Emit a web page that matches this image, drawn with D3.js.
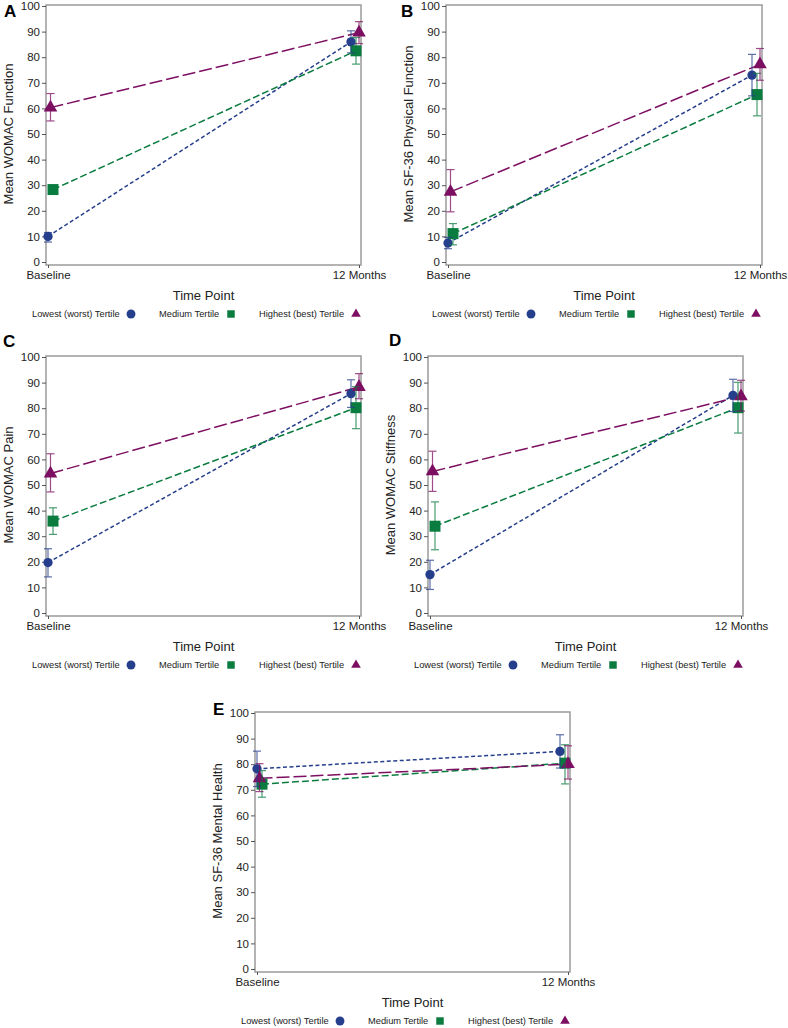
<!DOCTYPE html>
<html><head><meta charset="utf-8">
<script src="https://cdn.jsdelivr.net/npm/d3@7"></script>
<style>
html,body{margin:0;padding:0;background:#fff;}
svg{display:block;font-family:"Liberation Sans",Arial,sans-serif;}
</style></head>
<body>
<svg id="chart" width="788" height="1028"></svg>
<script>
// ---------- DATA ----------
const categories = ["Baseline", "12 Months"];
const seriesNames = ["Lowest (worst) Tertile", "Medium Tertile", "Highest (best) Tertile"];
const yTicks = [0, 10, 20, 30, 40, 50, 60, 70, 80, 90, 100];
const xTitle = "Time Point";

// rows: Lowest, Medium, Highest ; columns: Baseline, 12 Months
const womacFunctionMean = [[10.0, 86.0], [28.3, 82.5], [60.3, 89.6]];
const womacFunctionLo   = [[7.8, 81.7], [26.8, 77.3], [55.1, 85.3]];
const womacFunctionHi   = [[11.5, 90.3], [29.8, 87.7], [65.8, 93.9]];

const sf36PhysMean = [[7.4, 73.0], [11.1, 65.4], [27.4, 77.2]];
const sf36PhysLo   = [[5.2, 64.9], [6.7, 57.1], [19.6, 71.0]];
const sf36PhysHi   = [[9.6, 81.1], [15.0, 73.7], [36.1, 83.4]];

const womacPainMean = [[19.7, 85.7], [35.9, 80.2], [54.5, 88.3]];
const womacPainLo   = [[14.1, 80.3], [30.7, 72.0], [47.3, 83.7]];
const womacPainHi   = [[25.1, 91.1], [41.1, 88.4], [62.2, 93.5]];

const womacStiffMean = [[15.0, 85.0], [33.9, 80.2], [55.3, 84.6]];
const womacStiffLo   = [[9.2, 78.7], [24.7, 70.3], [47.5, 78.9]];
const womacStiffHi   = [[20.6, 91.3], [43.4, 90.1], [63.2, 90.9]];

const sf36MentMean = [[78.2, 85.0], [72.2, 80.4], [74.5, 80.0]];
const sf36MentLo   = [[71.3, 78.5], [67.1, 72.3], [69.3, 74.2]];
const sf36MentHi   = [[85.1, 91.5], [77.5, 87.6], [80.2, 87.2]];

const panelLetters = ["A", "B", "C", "D", "E"];
const yTitles = ["Mean WOMAC Function", "Mean SF-36 Physical Function", "Mean WOMAC Pain", "Mean WOMAC Stiffness", "Mean SF-36 Mental Health"];

// ---------- STYLE / LAYOUT ----------
const colors = ["#263f8c", "#0b7c40", "#7d0f62"];
const dashes = ["4,2.5", "7,3", "13,4"];
const shapes = ["circle", "square", "triangle"];
const clusterShift = [[0, 5, 2.5], [-8, -3, 0]]; // px, per category then series

const layouts = [
  {left: 46, right: 361, top: 6, bottom: 262, lx: 4, ly: 17},
  {left: 446, right: 762, top: 6, bottom: 262, lx: 401, ly: 17},
  {left: 46, right: 361, top: 357, bottom: 613, lx: 3, ly: 347},
  {left: 428, right: 743, top: 357, bottom: 613, lx: 389, ly: 346},
  {left: 255, right: 570, top: 713, bottom: 969, lx: 213, ly: 715}
];

const panels = [
  {mean: womacFunctionMean, lo: womacFunctionLo, hi: womacFunctionHi},
  {mean: sf36PhysMean, lo: sf36PhysLo, hi: sf36PhysHi},
  {mean: womacPainMean, lo: womacPainLo, hi: womacPainHi},
  {mean: womacStiffMean, lo: womacStiffLo, hi: womacStiffHi},
  {mean: sf36MentMean, lo: sf36MentLo, hi: sf36MentHi}
];

const svg = d3.select("#chart");
const textColor = "#222";
const frameColor = "#9a9a9a";

function markerPath(shape, size) {
  const t = shape === "circle" ? d3.symbolCircle : shape === "square" ? d3.symbolSquare : d3.symbolTriangle;
  return d3.symbol().type(t).size(size)();
}
const markerSizes = {circle: 68, square: 121, triangle: 80};
const legendSizes = {circle: 62, square: 56, triangle: 40};

panels.forEach((p, pi) => {
  const L = layouts[pi];
  const g = svg.append("g");
  const x = d3.scalePoint().domain(categories).range([L.left + 2, L.right - 2]);
  const y = d3.scaleLinear().domain([0, 100]).range([L.bottom, L.top]);
  const frameTop = L.top - 1, frameBottom = L.bottom + 3;

  // frame
  g.append("rect").attr("x", L.left).attr("y", frameTop)
    .attr("width", L.right - L.left).attr("height", frameBottom - frameTop)
    .attr("fill", "none").attr("stroke", frameColor).attr("stroke-width", 1.5);

  // y axis
  const ya = g.append("g").attr("transform", `translate(${L.left},0)`)
    .call(d3.axisLeft(y).tickValues(yTicks).tickSize(4).tickPadding(2));
  ya.select(".domain").remove();
  ya.selectAll(".tick line").attr("stroke", "#555");
  ya.selectAll(".tick text").attr("fill", textColor).style("font-size", "11.5px").style("font-family", "Liberation Sans, Arial, sans-serif");

  // x axis
  const xa = g.append("g").attr("transform", `translate(0,${frameBottom})`)
    .call(d3.axisBottom(x).tickSize(3).tickPadding(3));
  xa.select(".domain").remove();
  xa.selectAll(".tick line").attr("stroke", "#555");
  xa.selectAll(".tick text").attr("fill", textColor).style("font-size", "11.5px").style("font-family", "Liberation Sans, Arial, sans-serif");

  // titles
  const cx = (L.left + L.right) / 2;
  g.append("text").attr("x", cx).attr("y", frameBottom + 35).attr("text-anchor", "middle")
    .attr("fill", textColor).style("font-size", "13px").text(xTitle);
  g.append("text").attr("transform", `translate(${L.left - 33},${(L.top + L.bottom) / 2}) rotate(-90)`)
    .attr("text-anchor", "middle").attr("fill", textColor).style("font-size", "13px").text(yTitles[pi]);
  g.append("text").attr("x", L.lx).attr("y", L.ly).attr("fill", "#000")
    .style("font-size", "17px").style("font-weight", "bold").text(panelLetters[pi]);

  const px = (ci, si) => x(categories[ci]) + clusterShift[ci][si];

  // lines
  seriesNames.forEach((s, si) => {
    const pts = categories.map((c, ci) => [px(ci, si), y(p.mean[si][ci])]);
    g.append("path").attr("d", d3.line()(pts)).attr("fill", "none")
      .attr("stroke", colors[si]).attr("stroke-width", 1.5).attr("stroke-dasharray", dashes[si]);
  });
  // markers
  seriesNames.forEach((s, si) => {
    categories.forEach((c, ci) => {
      g.append("path").attr("d", markerPath(shapes[si], markerSizes[shapes[si]]))
        .attr("transform", `translate(${px(ci, si)},${y(p.mean[si][ci])})`)
        .attr("fill", colors[si]);
    });
  });
  // error bars
  seriesNames.forEach((s, si) => {
    categories.forEach((c, ci) => {
      const xx = px(ci, si);
      const y1 = y(p.lo[si][ci]), y2 = y(p.hi[si][ci]);
      const eb = g.append("g").attr("stroke", colors[si]).attr("stroke-width", 1.2).attr("opacity", 0.75);
      eb.append("line").attr("x1", xx).attr("x2", xx).attr("y1", y1).attr("y2", y2);
      eb.append("line").attr("x1", xx - 4).attr("x2", xx + 4).attr("y1", y1).attr("y2", y1);
      eb.append("line").attr("x1", xx - 4).attr("x2", xx + 4).attr("y1", y2).attr("y2", y2);
    });
  });

  // legend
  const ly = frameBottom + 49;
  const textOff = [-14, 113, 213];
  const markOff = [85, 185, 310];
  seriesNames.forEach((s, si) => {
    g.append("text").attr("x", L.left + textOff[si]).attr("y", ly + 3.3)
      .attr("fill", textColor).style("font-size", "9.3px").text(s);
    g.append("path").attr("d", markerPath(shapes[si], legendSizes[shapes[si]]))
      .attr("transform", `translate(${L.left + markOff[si]},${ly})`).attr("fill", colors[si]);
  });
});
</script>
</body></html>
